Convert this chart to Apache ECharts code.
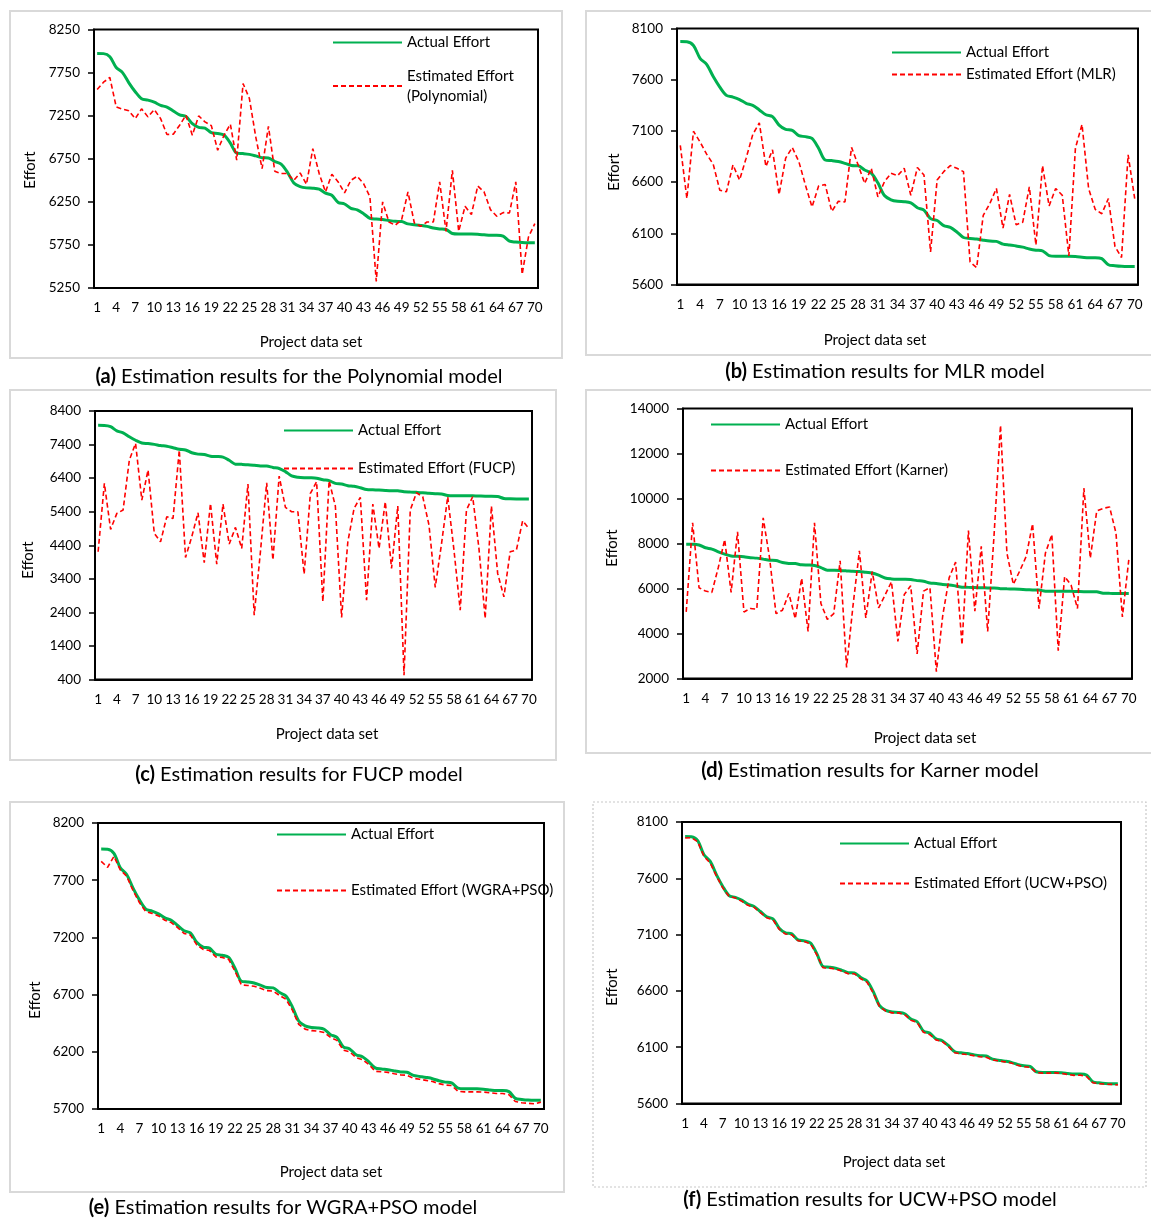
<!DOCTYPE html>
<html><head><meta charset="utf-8">
<script src="https://cdn.jsdelivr.net/npm/echarts@6/dist/echarts.min.js"></script>
<style>html,body{margin:0;padding:0;background:#fff}#c{width:1151px;height:1219px}</style>
</head><body><div id="c"></div>
<script>
// ---------------- DATA ----------------
const categories = [1,2,3,4,5,6,7,8,9,10,11,12,13,14,15,16,17,18,19,20,21,22,23,24,25,26,27,28,29,30,
  31,32,33,34,35,36,37,38,39,40,41,42,43,44,45,46,47,48,49,50,51,52,53,54,55,56,57,58,59,60,
  61,62,63,64,65,66,67,68,69,70];

const actualEffort = [7972,7970,7934,7809,7750,7631,7528,7447,7430,7406,
  7370,7350,7305,7258,7240,7157,7115,7106,7053,7044,
  7026,6931,6816,6810,6801,6783,6762,6759,6718,6688,
  6593,6469,6427,6412,6409,6397,6350,6326,6243,6225,
  6175,6157,6113,6059,6050,6044,6033,6024,6021,5994,
  5985,5976,5965,5947,5935,5929,5882,5876,5876,5876,
  5873,5867,5861,5861,5852,5793,5784,5778,5776,5776];

const estPolynomial = [7553,7638,7693,7352,7325,7306,7216,7329,7236,7321,
  7216,7031,7035,7139,7255,7023,7247,7178,7135,6849,
  7023,7151,6733,7623,7449,7004,6636,7127,6605,6578,
  6578,6500,6585,6454,6868,6578,6365,6570,6481,6353,
  6500,6547,6462,6307,5327,6249,6016,5978,6043,6365,
  6005,5966,6016,6016,6481,5908,6616,5908,6198,6102,
  6434,6365,6160,6082,6125,6121,6481,5409,5842,5997];

const estMLR = [6959,6439,7097,6992,6873,6775,6521,6505,6768,6620,
  6834,7064,7179,6752,6916,6479,6834,6939,6801,6571,
  6357,6561,6577,6314,6413,6406,6939,6768,6587,6735,
  6456,6604,6686,6663,6735,6472,6742,6669,5919,6620,
  6702,6761,6735,6702,5821,5765,6275,6390,6538,6150,
  6479,6183,6209,6554,5985,6761,6367,6538,6472,5880,
  6932,7163,6538,6334,6291,6439,5972,5863,6867,6439];

const estFUCP = [4206,6243,4872,5349,5448,6939,7436,5747,6641,4753,
  4504,5250,5200,7237,4037,4653,5369,3878,5647,3838,
  5627,4435,4932,4306,6224,2318,4206,6263,3958,6462,
  5528,5399,5399,3540,5945,6293,2716,6323,5568,2249,
  4504,5498,5826,2765,5627,4306,5697,3709,5568,529,
  5448,5965,5846,5001,3143,4435,5846,4256,2467,5448,
  5846,4306,2219,5568,3560,2864,4206,4256,5130,4902];

const estKarner = [4959,8919,6035,5885,5826,6931,8172,5826,8516,4959,
  5108,5078,9143,7350,4884,5034,5781,4660,6453,4092,
  8919,5333,4630,4884,7230,2493,5228,7679,4690,6752,
  5138,5705,6303,3644,5736,6124,3091,5885,6035,2299,
  4809,6483,7170,3494,8575,4989,7873,4092,8396,13253,
  7574,6184,6782,7425,8874,5108,7574,8396,3240,6528,
  6154,5108,10458,7350,9442,9562,9622,8471,4735,7275];

const estWGRAPSO = [7865,7812,7908,7790,7735,7610,7505,7425,7410,7388,
  7350,7330,7285,7235,7220,7135,7095,7085,7030,7025,
  7008,6905,6785,6780,6773,6755,6735,6730,6692,6660,
  6565,6440,6398,6385,6380,6368,6325,6300,6215,6200,
  6150,6132,6090,6030,6025,6020,6008,5998,5995,5968,
  5960,5950,5940,5922,5910,5905,5855,5850,5850,5850,
  5848,5842,5835,5835,5825,5765,5755,5750,5745,5760];

const estUCWPSO = [7958,7960,7925,7795,7735,7620,7515,7440,7425,7398,
  7360,7342,7295,7250,7232,7147,7105,7098,7045,7038,
  7018,6920,6805,6802,6795,6775,6752,6752,6708,6678,
  6580,6460,6420,6405,6405,6390,6340,6318,6232,6212,
  6165,6150,6105,6050,6040,6035,6025,6015,6010,5988,
  5978,5970,5960,5940,5926,5922,5875,5870,5870,5872,
  5868,5858,5850,5852,5840,5785,5775,5772,5770,5765];

const yTicksPolynomial = [5250,5750,6250,6750,7250,7750,8250];
const yTicksMLR = [5600,6100,6600,7100,7600,8100];
const yTicksFUCP = [400,1400,2400,3400,4400,5400,6400,7400,8400];
const yTicksKarner = [2000,4000,6000,8000,10000,12000,14000];
const yTicksWGRAPSO = [5700,6200,6700,7200,7700,8200];
const yTicksUCWPSO = [5600,6100,6600,7100,7600,8100];

const actualName = 'Actual Effort';
const estNames = ['Estimated Effort (Polynomial)','Estimated Effort (MLR)','Estimated Effort (FUCP)',
  'Estimated Effort (Karner)','Estimated Effort (WGRA+PSO)','Estimated Effort (UCW+PSO)'];
const captionTags = ['(a)','(b)','(c)','(d)','(e)','(f)'];
const captionTexts = [' Estimation results for the Polynomial model',' Estimation results for MLR model',
  ' Estimation results for FUCP model',' Estimation results for Karner model',
  ' Estimation results for WGRA+PSO model',' Estimation results for UCW+PSO model'];
const yTitle = 'Effort';
const xTitle = 'Project data set';

// ---------------- LAYOUT ----------------
const FONT = 'Lato, "Noto Sans", sans-serif';
const estSeries = [estPolynomial, estMLR, estFUCP, estKarner, estWGRAPSO, estUCWPSO];
const yTickSets = [yTicksPolynomial, yTicksMLR, yTicksFUCP, yTicksKarner, yTicksWGRAPSO, yTicksUCWPSO];
const layout = [
  {grid:[94,29.5,444,258.5], box:[10,11,552,347], dotted:false, leg:[332,43,86], twoLine:true,  eff:[30,170],  xt:[311,342],  cap:[299,377]},
  {grid:[677,28.5,461,256],  box:[586,11,580,344], dotted:false, leg:[891,53,75], twoLine:false, eff:[614,172], xt:[875,340],  cap:[885,372]},
  {grid:[95,411,437,268.5],  box:[10,390,546,370], dotted:false, leg:[283,431,469], twoLine:false, eff:[28,560], xt:[327,734],  cap:[299,775]},
  {grid:[683,408.5,449,270], box:[586,390,580,363], dotted:false, leg:[710,425,471], twoLine:false, eff:[612,548], xt:[925,738], cap:[870,771]},
  {grid:[98,823,446,286],    box:[10,802,554,390], dotted:false, leg:[276,835,891], twoLine:false, eff:[35,1000], xt:[331,1172], cap:[283,1208]},
  {grid:[682,822,439,281.5], box:[593,802,553,385], dotted:true,  leg:[839,844,884], twoLine:false, eff:[612,987], xt:[894,1162], cap:[870,1200]}
];

const grids = [], xAxes = [], yAxes = [], series = [], legends = [], graphics = [];
const labelStyle = {color:'#000', fontSize:13.5, fontFamily:FONT};
const textStyle = {color:'#000', fontSize:15, fontFamily:FONT};
const legendBase = {padding:0, itemWidth:69, itemHeight:14, selectedMode:false,
  itemStyle:{opacity:0, borderWidth:0}};

layout.forEach((L, i) => {
  const ticks = yTickSets[i];
  grids.push({left:L.grid[0], top:L.grid[1], width:L.grid[2], height:L.grid[3],
    show:true, borderColor:'#000', borderWidth:2, backgroundColor:'transparent'});
  xAxes.push({type:'category', gridIndex:i, data:categories, boundaryGap:true,
    axisLine:{lineStyle:{color:'#000', width:2}}, axisTick:{show:false},
    axisLabel:Object.assign({interval:2, margin:13}, labelStyle), splitLine:{show:false}});
  yAxes.push({type:'value', gridIndex:i, min:ticks[0], max:ticks[ticks.length-1], interval:ticks[1]-ticks[0],
    axisLine:{show:true, lineStyle:{color:'#000', width:2}},
    axisTick:{show:true, length:6, lineStyle:{color:'#000', width:1.5}},
    axisLabel:Object.assign({margin:14, formatter: v => String(v)}, labelStyle), splitLine:{show:false}});
  series.push({type:'line', name:actualName, xAxisIndex:i, yAxisIndex:i, data:actualEffort,
    symbol:'none', smooth:0.3, lineStyle:{color:'#00B050', width:3}, itemStyle:{color:'#00B050'}, z:2});
  series.push({type:'line', name:estNames[i], xAxisIndex:i, yAxisIndex:i, data:estSeries[i],
    symbol:'none', smooth:false, lineStyle:{color:'#FF0000', width:1.6, type:[5,3]}, itemStyle:{color:'#FF0000'}, z:3});

  legends.push(Object.assign({left:L.leg[0], top:L.leg[1]-8, data:[actualName], textStyle:textStyle}, legendBase));
  if (L.twoLine) {
    legends.push(Object.assign({left:L.leg[0], top:L.leg[2]-30,
      data:[{name:estNames[i], textStyle:{lineHeight:20, padding:[20,0,0,0]}}],
      formatter: n => n.replace(' (', '\n('), textStyle:Object.assign({lineHeight:20}, textStyle)}, legendBase));
  } else {
    legends.push(Object.assign({left:L.leg[0], top:L.leg[2]-8, data:[estNames[i]], textStyle:textStyle}, legendBase));
  }

  graphics.push({type:'rect', shape:{x:L.box[0], y:L.box[1], width:L.box[2], height:L.box[3]},
    style:{fill:'none', stroke: L.dotted ? '#c8c8c8' : '#d9d9d9', lineWidth: L.dotted ? 1.2 : 2,
      lineDash: L.dotted ? [2,2] : null}, z:0, silent:true});
  graphics.push({type:'text', x:L.eff[0], y:L.eff[1], rotation:Math.PI/2,
    style:{text:yTitle, align:'center', verticalAlign:'middle', fill:'#000', fontSize:15, fontFamily:FONT}, silent:true});
  graphics.push({type:'text', x:L.xt[0], y:L.xt[1],
    style:{text:xTitle, align:'center', verticalAlign:'middle', fill:'#000', fontSize:15, fontFamily:FONT}, silent:true});
  graphics.push({type:'text', x:L.cap[0], y:L.cap[1],
    style:{text:'{b|' + captionTags[i] + '}' + captionTexts[i], align:'center', verticalAlign:'middle',
      fill:'#000', fontSize:20, fontFamily:FONT,
      rich:{b:{fontWeight:'bold', fontSize:20, fontFamily:FONT, fill:'#000'}}}, silent:true});
});

const chart = echarts.init(document.getElementById('c'), null, {renderer:'canvas', width:1151, height:1219});
chart.setOption({
  backgroundColor:'#fff',
  animation:false,
  grid:grids, xAxis:xAxes, yAxis:yAxes, series:series, legend:legends,
  graphic:{elements:graphics}
});
</script></body></html>
